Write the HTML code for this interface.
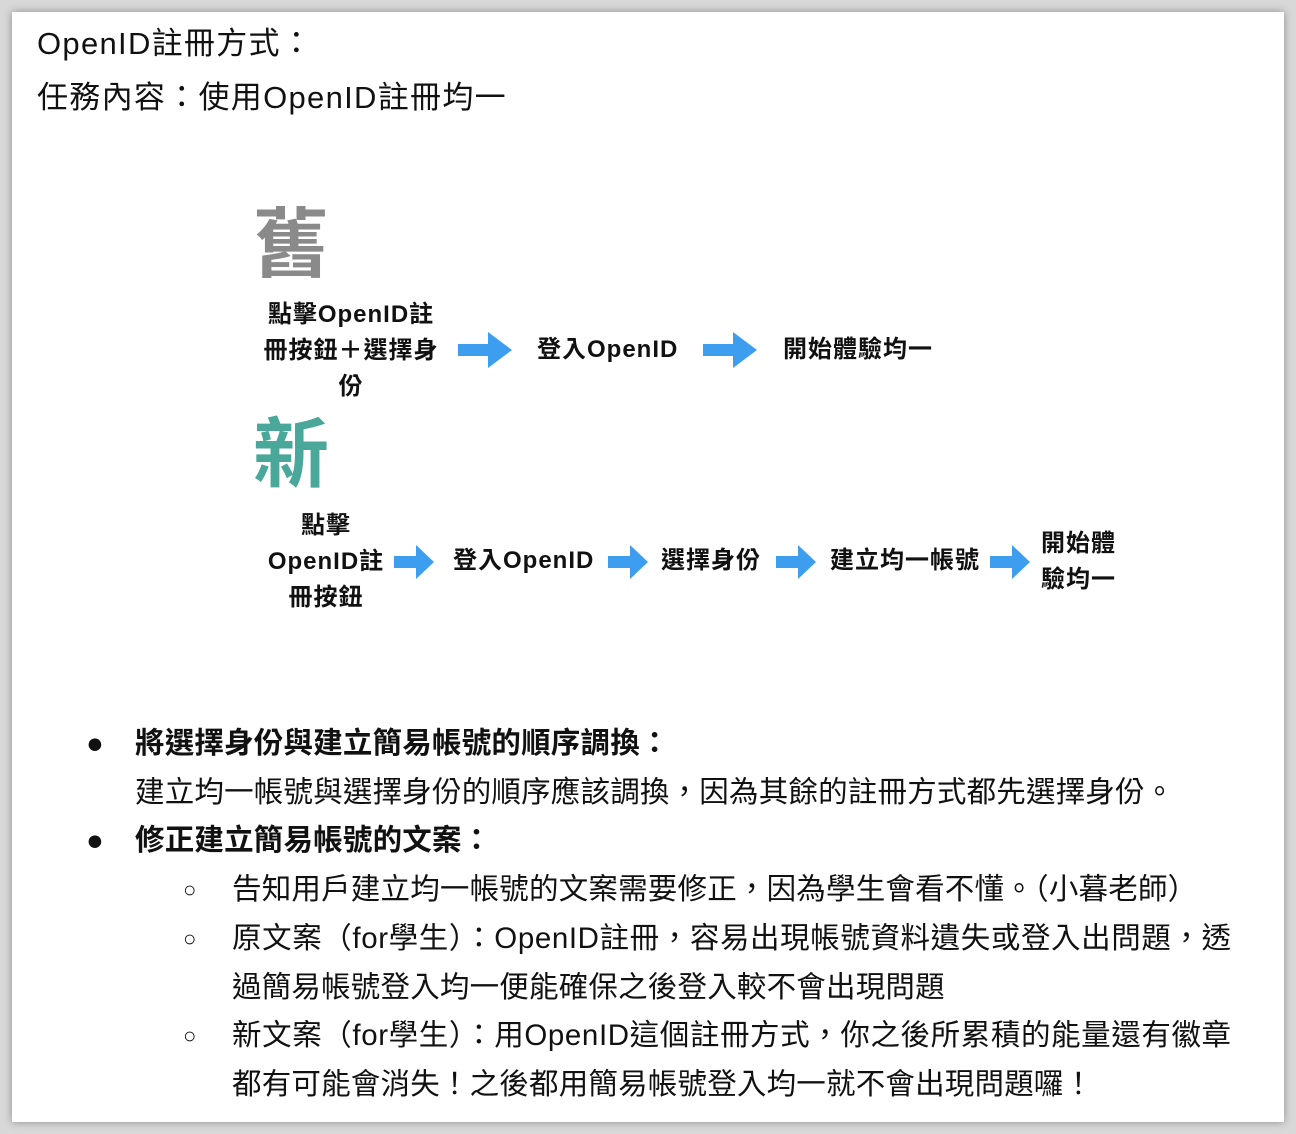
<!DOCTYPE html>
<html><head><meta charset="utf-8"><style>
body{margin:0;width:1296px;height:1134px;background:#d8d8d8;position:relative;overflow:hidden;font-family:"Liberation Sans","Noto Sans CJK TC",sans-serif;color:#111}
.card{position:absolute;left:12px;top:12px;width:1272px;height:1110px;background:#fff;box-shadow:0 0 8px rgba(0,0,0,.35)}
.t{position:absolute;white-space:nowrap;line-height:1}
.h{font-size:29.5px;letter-spacing:0.2px}
.b{font-weight:bold;font-size:24px;letter-spacing:1px}
.c{text-align:center}
svg{position:absolute}
</style></head><body>
<div class="card"></div>
<div class="t" style="left:37px;top:28px;font-size:31px;letter-spacing:1.3px">OpenID註冊方式：</div>
<div class="t" style="left:37px;top:82px;font-size:31px;letter-spacing:1.3px">任務內容：使用OpenID註冊均一</div>

<div class="t" style="left:253px;top:208px;font-size:76px;font-weight:bold;color:#8a8a8a">舊</div>
<div class="t b c" style="left:247px;top:297px;width:208px;line-height:36px">點擊OpenID註<br>冊按鈕＋選擇身<br>份</div>
<svg style="left:458px;top:332px" width="56" height="36"><path d="M0 12H30V0L54 18L30 36V24H0Z" fill="#3d9ef0"/></svg>
<div class="t b" style="left:537px;top:338px">登入OpenID</div>
<svg style="left:703px;top:332px" width="56" height="36"><path d="M0 12H30V0L54 18L30 36V24H0Z" fill="#3d9ef0"/></svg>
<div class="t b" style="left:783px;top:338px">開始體驗均一</div>

<div class="t" style="left:253px;top:418px;font-size:76px;font-weight:bold;color:#4aa89a">新</div>
<div class="t b c" style="left:258px;top:508px;width:136px;line-height:36px">點擊<br>OpenID註<br>冊按鈕</div>
<svg style="left:394px;top:545px" width="42" height="34"><path d="M0 11H22V0L40 17L22 34V23H0Z" fill="#3d9ef0"/></svg>
<div class="t b" style="left:453px;top:549px">登入OpenID</div>
<svg style="left:608px;top:545px" width="42" height="34"><path d="M0 11H22V0L40 17L22 34V23H0Z" fill="#3d9ef0"/></svg>
<div class="t b" style="left:661px;top:549px">選擇身份</div>
<svg style="left:776px;top:545px" width="42" height="34"><path d="M0 11H22V0L40 17L22 34V23H0Z" fill="#3d9ef0"/></svg>
<div class="t b" style="left:830px;top:549px">建立均一帳號</div>
<svg style="left:990px;top:545px" width="42" height="34"><path d="M0 11H22V0L40 17L22 34V23H0Z" fill="#3d9ef0"/></svg>
<div class="t b" style="left:1041px;top:526px;line-height:36px">開始體<br>驗均一</div>

<div class="t h" style="left:86px;top:729px">●</div>
<div class="t h" style="left:135px;top:729px;font-weight:bold">將選擇身份與建立簡易帳號的順序調換：</div>
<div class="t h" style="left:135px;top:778px">建立均一帳號與選擇身份的順序應該調換，因為其餘的註冊方式都先選擇身份。</div>
<div class="t h" style="left:86px;top:826px">●</div>
<div class="t h" style="left:135px;top:826px;font-weight:bold">修正建立簡易帳號的文案：</div>
<div class="t" style="left:183px;top:879px;font-size:22px">○</div>
<div class="t h" style="left:232px;top:875px">告知用戶建立均一帳號的文案需要修正，因為學生會看不懂。（小暮老師）</div>
<div class="t" style="left:183px;top:928px;font-size:22px">○</div>
<div class="t h" style="left:232px;top:924px;letter-spacing:0.6px">原文案（for學生）：OpenID註冊，容易出現帳號資料遺失或登入出問題，透</div>
<div class="t h" style="left:232px;top:973px">過簡易帳號登入均一便能確保之後登入較不會出現問題</div>
<div class="t" style="left:183px;top:1025px;font-size:22px">○</div>
<div class="t h" style="left:232px;top:1021px;letter-spacing:0.6px">新文案（for學生）：用OpenID這個註冊方式，你之後所累積的能量還有徽章</div>
<div class="t h" style="left:232px;top:1070px">都有可能會消失！之後都用簡易帳號登入均一就不會出現問題囉！</div>
</body></html>
